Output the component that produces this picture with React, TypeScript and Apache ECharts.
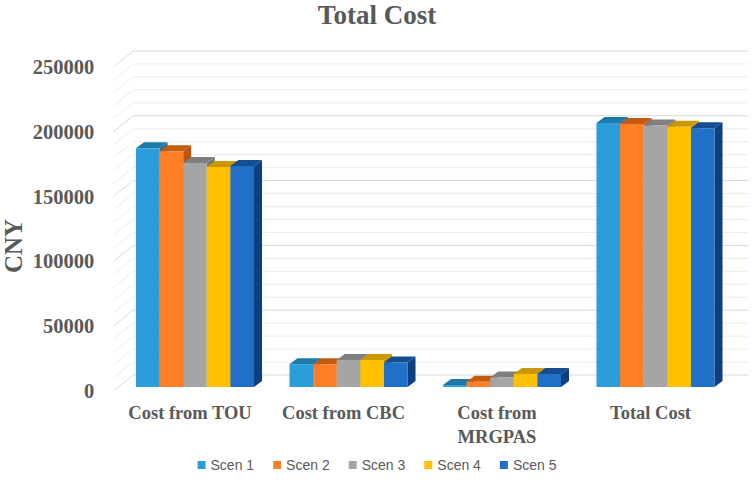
import React, { useEffect, useRef } from "react";
import * as echarts from "echarts";

const categories = ["Cost from TOU", "Cost from CBC", "Cost from\nMRGPAS", "Total Cost"];
const seriesNames = ["Scen 1", "Scen 2", "Scen 3", "Scen 4", "Scen 5"];
const scen1 = [184300, 17600, 1500, 203800];
const scen2 = [182000, 17600, 4100, 203000];
const scen3 = [172800, 20900, 7400, 201700];
const scen4 = [169700, 20900, 10000, 200900];
const scen5 = [170500, 18900, 10000, 199600];
const seriesValues = [scen1, scen2, scen3, scen4, scen5];
const wallTicks = [0, 10000, 20000, 30000, 40000, 50000, 60000, 70000, 80000, 90000, 100000, 110000, 120000, 130000, 140000, 150000, 160000, 170000, 180000, 190000, 200000, 210000, 220000, 230000, 240000, 250000];
const yAxisTitle = "CNY";

const frontColors = ["#2A9DDA", "#FF7F27", "#A5A5A5", "#FFC000", "#1F70C8"];
const topColors = ["#1E78A8", "#C55A11", "#7F7F7F", "#C99700", "#144D92"];
const sideColors = ["#1B6E9C", "#B85510", "#767676", "#BF9000", "#0F3F7C"];

const WALL_DX = 20;
const WALL_DY = -16;
const BAR_OFF_X = 5;
const BAR_OFF_Y = -4;
const BAR_DX = 8;
const BAR_DY = -6;
const GROUP_RATIO = 0.769;

export default function App() {
  const ref = useRef<HTMLDivElement>(null);
  useEffect(() => {
    if (!ref.current) return;
    const chart = echarts.init(ref.current, null, { renderer: "svg" });

    const wallSeries: any = {
      type: "custom",
      name: "wall",
      silent: true,
      z: 0,
      data: wallTicks.map((v) => [0, v]),
      renderItem: (params: any, api: any) => {
        const v = api.value(1);
        const p = api.coord([0, v]);
        const cs = params.coordSys;
        const left = cs.x;
        const right = cs.x + cs.width + WALL_DX + 1;
        const y = p[1];
        const major = v % 50000 === 0;
        return {
          type: "polyline",
          shape: {
            points: [
              [left, y],
              [left + WALL_DX, y + WALL_DY],
              [right, y + WALL_DY],
            ],
          },
          style: { stroke: major ? "#d9d9d9" : "#ececec", lineWidth: 1, fill: "none" },
        };
      },
    };

    const barSeries = seriesValues.map((vals, si) => ({
      type: "custom",
      name: seriesNames[si],
      z: 2 + si,
      itemStyle: { color: frontColors[si] },
      data: vals.map((v, ci) => [ci, v]),
      renderItem: (params: any, api: any) => {
        const ci = api.value(0);
        const v = api.value(1);
        const base = api.coord([ci, 0]);
        const top = api.coord([ci, v]);
        const band = api.size([1, 0])[0];
        const groupW = band * GROUP_RATIO;
        const w = groupW / 5;
        const x0 = base[0] - groupW / 2 + si * w + BAR_OFF_X;
        const x1 = x0 + w;
        const yb = base[1] + BAR_OFF_Y;
        const yt = top[1] + BAR_OFF_Y;
        return {
          type: "group",
          children: [
            {
              type: "polygon",
              shape: { points: [[x1, yb], [x1 + BAR_DX, yb + BAR_DY], [x1 + BAR_DX, yt + BAR_DY], [x1, yt]] },
              style: { fill: sideColors[si] },
            },
            {
              type: "polygon",
              shape: { points: [[x0, yt], [x1, yt], [x1 + BAR_DX, yt + BAR_DY], [x0 + BAR_DX, yt + BAR_DY]] },
              style: { fill: topColors[si] },
            },
            {
              type: "rect",
              shape: { x: x0, y: yt, width: w, height: yb - yt },
              style: { fill: frontColors[si] },
            },
          ],
        };
      },
    }));

    chart.setOption({
      animation: false,
      backgroundColor: "#ffffff",
      color: frontColors,
      title: {
        text: "Total Cost",
        left: "center",
        top: -4,
        textStyle: {
          fontFamily: "Liberation Serif",
          fontWeight: "bold",
          fontSize: 27,
          color: "#595959",
        },
      },
      graphic: [
        {
          type: "text",
          x: 13,
          y: 246,
          rotation: Math.PI / 2,
          style: {
            text: yAxisTitle,
            align: "center",
            verticalAlign: "middle",
            fontFamily: "Liberation Serif",
            fontWeight: "bold",
            fontSize: 25,
            fill: "#595959",
          },
        },
      ],
      legend: {
        data: seriesNames,
        bottom: 5,
        left: "center",
        itemWidth: 8,
        itemHeight: 8,
        itemGap: 19,
        icon: "rect",
        textStyle: { fontFamily: "Liberation Sans", fontSize: 14, color: "#595959" },
      },
      grid: { left: 113.25, right: 26.75, top: 67, bottom: 91, containLabel: false, outerBoundsMode: "none" },
      xAxis: {
        type: "category",
        data: categories,
        axisLine: { show: false },
        axisTick: { show: false },
        axisLabel: {
          margin: 10,
          interval: 0,
          fontFamily: "Liberation Serif",
          fontWeight: "bold",
          fontSize: 18.5,
          lineHeight: 24,
          color: "#595959",
        },
      },
      yAxis: {
        type: "value",
        min: 0,
        max: 250000,
        interval: 50000,
        axisLine: { show: false },
        axisTick: { show: false },
        splitLine: { show: false },
        axisLabel: {
          margin: 19,
          formatter: (v: number) => String(v),
          fontFamily: "Liberation Serif",
          fontWeight: "bold",
          fontSize: 20.5,
          color: "#595959",
        },
      },
      series: [wallSeries, ...barSeries],
    });
    return () => chart.dispose();
  }, []);
  return (
    <div
      ref={ref}
      style={{ position: "absolute", left: 0, top: 0, width: 754, height: 482, background: "#fff" }}
    />
  );
}
